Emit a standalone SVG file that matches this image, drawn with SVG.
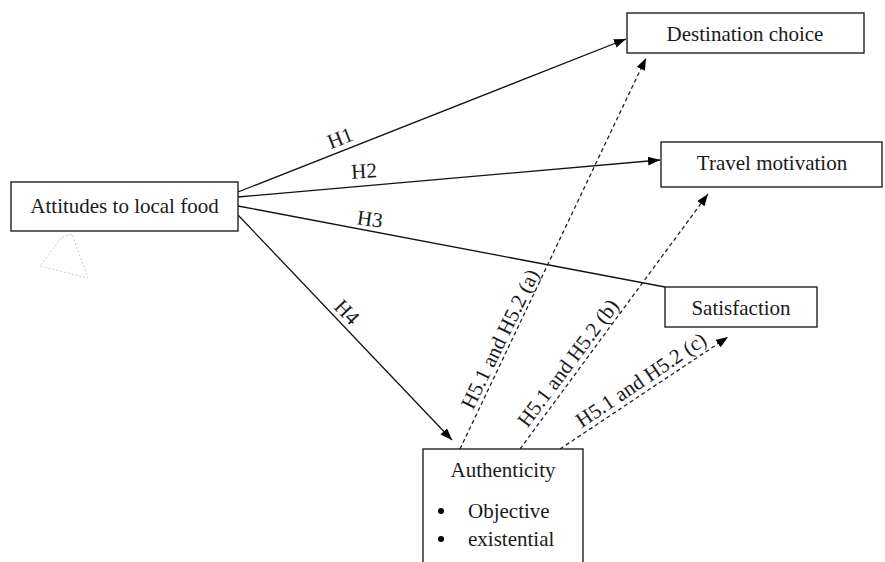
<svg xmlns="http://www.w3.org/2000/svg" width="885" height="562" viewBox="0 0 885 562">
<style>
.box{fill:#fff;stroke:#222;stroke-width:1.4}
.t{font-family:"Liberation Serif","Times New Roman",serif;font-size:21px;fill:#1a1a1a}
.c{text-anchor:middle}
.ln{stroke:#111;stroke-width:1.3;fill:none}
.dl{stroke:#222;stroke-width:1.3;fill:none;stroke-dasharray:4 3}
</style>
<defs>
<marker id="ah" markerUnits="userSpaceOnUse" markerWidth="13" markerHeight="10" refX="12" refY="4.5" orient="auto">
<path d="M0,0 L12,4.5 L0,9 z" fill="#000"/>
</marker>
</defs>
<rect width="885" height="562" fill="#fff"/>
<polygon points="62,237 72,234 88,278 40,266" fill="none" stroke="#bbb" stroke-width="0.8" stroke-dasharray="2 2"/>
<g id="connectors">
<line class="ln" x1="238" y1="192" x2="626" y2="39" marker-end="url(#ah)"/>
<line class="ln" x1="238" y1="197" x2="660" y2="160" marker-end="url(#ah)"/>
<line class="ln" x1="238" y1="206" x2="665" y2="287"/>
<line class="ln" x1="238" y1="215" x2="452" y2="440" marker-end="url(#ah)"/>
<line class="dl" x1="460" y1="449" x2="646" y2="58" marker-end="url(#ah)"/>
<line class="dl" x1="520" y1="449" x2="708" y2="194" marker-end="url(#ah)"/>
<line class="dl" x1="560" y1="449" x2="728" y2="337" marker-end="url(#ah)"/>
<text class="t c" transform="translate(340,138) rotate(-21.5)" y="7">H1</text>
<text class="t c" transform="translate(364,171) rotate(-3)" y="7">H2</text>
<text class="t c" transform="translate(370,219) rotate(8)" y="7">H3</text>
<text class="t c" transform="translate(347,312) rotate(46)" y="7">H4</text>
<text class="t c" transform="translate(500,339) rotate(-64)" y="7">H5.1 and H5.2 (a)</text>
<text class="t c" transform="translate(568,363) rotate(-53)" y="7">H5.1 and H5.2 (b)</text>
<text class="t c" transform="translate(641,380) rotate(-34)" y="7">H5.1 and H5.2 (c)</text>
</g>
<g id="attitudes">
<rect class="box" x="11" y="182" width="227" height="49"/>
<text class="t c" x="124.5" y="213">Attitudes to local food</text>
</g>
<g id="destination">
<rect class="box" x="627" y="13" width="237" height="40"/>
<text class="t c" x="745" y="41">Destination choice</text>
</g>
<g id="travel">
<rect class="box" x="661" y="142" width="221" height="45"/>
<text class="t c" x="772" y="170">Travel motivation</text>
</g>
<g id="satisfaction">
<rect class="box" x="665" y="287" width="152" height="40"/>
<text class="t c" x="741" y="315">Satisfaction</text>
</g>
<g id="authenticity">
<rect class="box" x="423" y="449" width="160" height="130"/>
<text class="t c" x="503" y="477">Authenticity</text>
<circle cx="441" cy="511" r="3" fill="#000"/>
<text class="t" x="468" y="518">Objective</text>
<circle cx="441" cy="539" r="3" fill="#000"/>
<text class="t" x="468" y="546">existential</text>
</g>
</svg>
